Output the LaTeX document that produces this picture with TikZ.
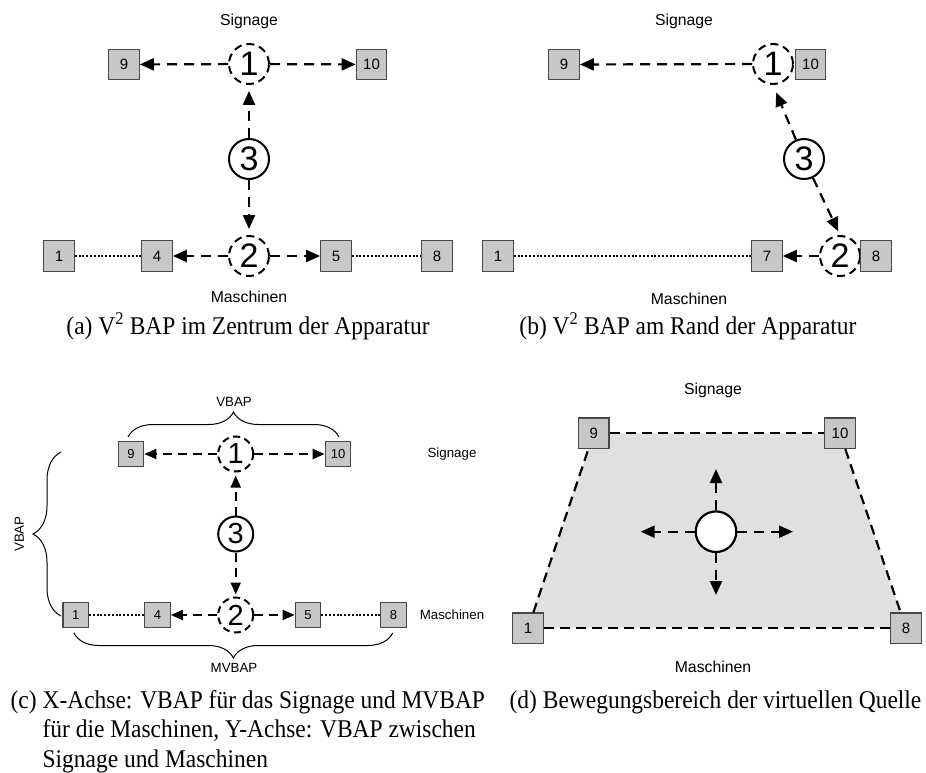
\documentclass[tikz,border=0pt]{standalone}
\usepackage{fontspec}
\setmainfont{Liberation Serif}
\setsansfont{Liberation Sans}
\usetikzlibrary{arrows.meta,decorations.pathreplacing}

\begin{document}
\begin{tikzpicture}[x=1pt,y=-1pt,
  lbl/.style={font=\sffamily\fontsize{15.8}{19}\selectfont, inner sep=0pt},
  lblsmall/.style={font=\sffamily\fontsize{13.3}{16}\selectfont, inner sep=0pt},
  spk/.style={draw=black!72, fill=black!22, line width=1.2pt, minimum size=30.5pt,
    inner sep=0pt, font=\sffamily\fontsize{15}{18}\selectfont},
  spksmall/.style={spk, minimum size=25.5pt, font=\sffamily\fontsize{13}{16}\selectfont},
  src/.style={circle, draw, line width=2pt, dash pattern=on 8pt off 5pt,
    minimum size=40pt, inner sep=0pt, font=\sffamily\fontsize{34}{36}\selectfont},
  virt/.style={src, solid},
  srcsmall/.style={src, minimum size=35pt, dash pattern=on 7pt off 4.5pt,
    font=\sffamily\fontsize{29}{31}\selectfont},
  virtsmall/.style={srcsmall, solid},
  arr/.style={line width=2.2pt, dash pattern=on 10pt off 7pt,
    -{Triangle[length=14pt,width=12pt]}},
  arrsmall/.style={line width=2pt, dash pattern=on 9pt off 6pt,
    -{Triangle[length=12pt,width=10pt]}},
  dotline/.style={line width=2pt, dash pattern=on 2pt off 1.8pt},
  rimline/.style={line width=2.2pt, dash pattern=on 10pt off 6pt},
  bracket/.style={line width=1pt, decorate, decoration={brace, amplitude=#1}},
  captext/.style={font=\rmfamily\fontsize{25.5}{29.4}\selectfont, inner sep=0pt, xscale=0.92}
]
\useasboundingbox (0,0) rectangle (926,773);

% ---------- (a) V2 BAP in the centre ----------
\node[lbl] (aSig) at (249,21) {Signage};
\node[spk] (a9) at (124,64.5) {9};
\node[src] (a1) at (249,64) {1};
\node[spk] (a10) at (371.5,64.5) {10};
\node[virt] (a3) at (249,159) {3};
\node[src] (a2) at (249,256) {2};
\node[spk] (ab1) at (59,256) {1};
\node[spk] (ab4) at (157,256) {4};
\node[spk] (ab5) at (336,256) {5};
\node[spk] (ab8) at (437,256) {8};
\node[lbl] (aMa) at (249,297) {Maschinen};
\draw[arr] (a1) -- (a9);
\draw[arr] (a1) -- (a10);
\draw[arr, shorten >=6pt] (a3) -- (a1);
\draw[arr, shorten >=6pt] (a3) -- (a2);
\draw[arr] (a2) -- (ab4);
\draw[arr] (a2) -- (ab5);
\draw[dotline] (ab1) -- (ab4);
\draw[dotline] (ab5) -- (ab8);
\node[captext, anchor=base] (aCap) at (248,334) {(a) V\textsuperscript{2} BAP im Zentrum der Apparatur};

% ---------- (b) V2 BAP at the edge ----------
\node[lbl] (bSig) at (684,21) {Signage};
\node[spk] (b9) at (564,64.5) {9};
\node[src] (b1) at (773,64) {1};
\node[spk] (b10) at (810.5,64.5) {10};
\node[virt] (b3) at (804,159) {3};
\node[src] (b2) at (840,256) {2};
\node[spk] (bb1) at (498,256) {1};
\node[spk] (bb7) at (767,256) {7};
\node[spk] (bb8) at (876,256) {8};
\node[lbl] (bMa) at (689,299) {Maschinen};
\draw[arr] (b1) -- (b9);
\draw[arr, shorten >=8pt] (b3) -- (b1.south);
\draw[arr, shorten >=4pt] (b3) -- (b2.north);
\draw[arr] (b2) -- (bb7);
\draw[dotline] (bb1) -- (bb7);
\node[captext, anchor=base] (bCap) at (688,334) {(b) V\textsuperscript{2} BAP am Rand der Apparatur};

% ---------- (c) VBAP / MVBAP axes ----------
\node[spksmall] (c9) at (131,454) {9};
\node[srcsmall] (c1) at (235.7,454) {1};
\node[spksmall] (c10) at (338,454) {10};
\node[lblsmall] (cSig) at (452,454) {Signage};
\node[virtsmall] (c3) at (235.7,534) {3};
\node[srcsmall] (c2) at (235.7,615) {2};
\node[spksmall] (cb1) at (75.7,615) {1};
\node[spksmall] (cb4) at (157.5,615) {4};
\node[spksmall] (cb5) at (308,615) {5};
\node[spksmall] (cb8) at (393.5,615) {8};
\node[lblsmall] (cMa) at (452,615) {Maschinen};
\draw[arrsmall] (c1) -- (c9);
\draw[arrsmall] (c1) -- (c10);
\draw[arrsmall, shorten >=3pt] (c3) -- (c1);
\draw[arrsmall, shorten >=2pt] (c3) -- (c2);
\draw[arrsmall] (c2) -- (cb4);
\draw[arrsmall] (c2) -- (cb5);
\draw[dotline] (cb1) -- (cb4);
\draw[dotline] (cb5) -- (cb8);
% brackets
\coordinate (tbL) at (128,437);
\coordinate (tbR) at (339,437);
\coordinate (bbR) at (392.7,633);
\coordinate (bbL) at (74,633);
\coordinate (lbB) at (61,616);
\coordinate (lbT) at (61,452);
\draw[bracket=25pt] (tbL) -- (tbR);
\draw[bracket=25pt] (bbR) -- (bbL);
\draw[bracket=28pt] (lbB) -- (lbT);
\node[lblsmall] (cTop) at (234,401.7) {VBAP};
\node[lblsmall] (cBot) at (234,668) {MVBAP};
\node[lblsmall, rotate=90] (cLeft) at (19.3,534) {VBAP};
\node[captext, anchor=base west] (cCap) at (10.5,708.5)
  {\begin{tabular}[t]{@{}l@{ }l@{}}
   (c) & X-Achse: VBAP für das Signage und MVBAP\\
       & für die Maschinen, Y-Achse: VBAP zwischen\\
       & Signage und Maschinen
   \end{tabular}};

% ---------- (d) range of the virtual source ----------
\coordinate (p9) at (593.7,433.3);
\coordinate (p10) at (840,433.3);
\coordinate (p8) at (906,628.3);
\coordinate (p1) at (528,628.3);
\fill[black!12] (p9) -- (p10) -- (p8) -- (p1) -- cycle;
\node[lbl] (dSig) at (713,390) {Signage};
\node[spk] (d9) at (p9) {9};
\node[spk] (d10) at (p10) {10};
\node[spk] (d1) at (p1) {1};
\node[spk] (d8) at (p8) {8};
\draw[rimline] (d9) -- (d10);
\draw[rimline] (d10) -- (d8);
\draw[rimline] (d8) -- (d1);
\draw[rimline] (d1) -- (d9);
\node[circle, draw, fill=white, line width=2.2pt, minimum size=40.6pt, inner sep=0pt] (dc) at (716,531.7) {};
\coordinate (dUp) at (716,469);
\coordinate (dDown) at (716,595);
\coordinate (dLeft) at (640.7,531.7);
\coordinate (dRight) at (793,531.7);
\draw[arr] (dc) -- (dUp);
\draw[arr] (dc) -- (dDown);
\draw[arr] (dc) -- (dLeft);
\draw[arr] (dc) -- (dRight);
\node[lbl] (dMa) at (713,666.7) {Maschinen};
\node[captext, anchor=base] (dCap) at (715.5,708.5) {(d) Bewegungsbereich der virtuellen Quelle};
\end{tikzpicture}
\end{document}
